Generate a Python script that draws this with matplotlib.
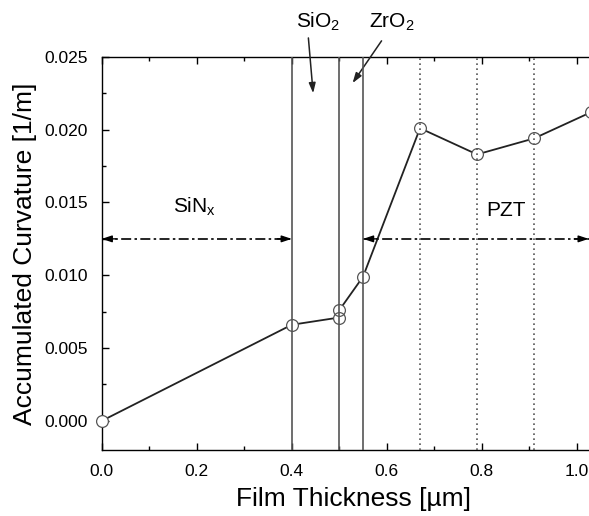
import matplotlib
matplotlib.use("Agg")
import matplotlib.pyplot as plt
from matplotlib.ticker import MultipleLocator, FormatStrFormatter

plt.rcParams.update({
    "font.family": "Liberation Sans",
    "mathtext.fontset": "custom",
    "mathtext.rm": "Liberation Sans",
    "mathtext.it": "Liberation Sans",
})

# measured data
thickness = [0.0, 0.40, 0.50, 0.50, 0.55, 0.67, 0.79, 0.91, 1.03]
curvature = [0.0, 0.0066, 0.0071, 0.0076, 0.0099, 0.0201, 0.0183, 0.0194, 0.0212]

# layer boundaries
solid_bounds = [0.40, 0.50, 0.55]
dotted_bounds = [0.67, 0.79, 0.91]

LINE_GRAY = "#555555"

fig = plt.figure(figsize=(5.89, 5.16), dpi=100)
ax = fig.add_axes([0.1727, 0.1279, 0.855, 0.7619])

for xb in solid_bounds:
    ax.axvline(xb, color=LINE_GRAY, linewidth=1.2, zorder=6)
for xb in dotted_bounds:
    ax.axvline(xb, color=LINE_GRAY, linewidth=1.2, linestyle=(0, (1, 2)), zorder=6)

# curve, then white discs, then open circle outlines
ax.plot(thickness, curvature, color="#222222", linewidth=1.3, zorder=3)
ax.plot(thickness, curvature, linestyle="none", marker="o", markersize=8.5,
        markerfacecolor="white", markeredgecolor="none", clip_on=False, zorder=4)
ax.plot(thickness, curvature, linestyle="none", marker="o", markersize=8.5,
        markerfacecolor="none", markeredgecolor="#555555", markeredgewidth=0.9,
        clip_on=False, zorder=5)

# dash-dot region arrows
arrow_y = 0.0125
ax.plot([0.0, 0.4], [arrow_y, arrow_y], color="black", linewidth=1.2,
        linestyle=(0, (6, 2, 1.5, 2)))
ax.plot([0.55, 1.03], [arrow_y, arrow_y], color="black", linewidth=1.2,
        linestyle=(0, (6, 2, 1.5, 2)))
head = dict(arrowstyle="-|>,head_length=0.6,head_width=0.2", color="black",
            linewidth=1.0, shrinkA=0, shrinkB=0)
for tip, tail in [(0.0, 0.03), (0.4, 0.37), (0.55, 0.58), (1.025, 0.995)]:
    ax.annotate("", xy=(tip, arrow_y), xytext=(tail, arrow_y), arrowprops=head)

ax.text(0.150, 0.0143, r"$\mathregular{SiN_x}$", fontsize=15, ha="left", va="baseline")
ax.text(0.85, 0.0141, "PZT", fontsize=15, ha="center", va="baseline")

# labels above the plot
ax.text(0.409, 0.0270, r"$\mathregular{SiO_2}$", fontsize=15, ha="left",
        va="baseline", clip_on=False)
ax.text(0.563, 0.0270, r"$\mathregular{ZrO_2}$", fontsize=15, ha="left",
        va="baseline", clip_on=False)
ptr = dict(arrowstyle="-|>,head_length=0.6,head_width=0.2", color="#222222",
           linewidth=1.1, shrinkA=0, shrinkB=0)
ax.annotate("", xy=(0.445, 0.0225), xytext=(0.435, 0.0263), arrowprops=ptr,
            annotation_clip=False)
ax.annotate("", xy=(0.528, 0.0232), xytext=(0.589, 0.0261), arrowprops=ptr,
            annotation_clip=False)

ax.set_xlim(0, 1.06)
ax.set_ylim(-0.002, 0.025)
ax.xaxis.set_major_locator(MultipleLocator(0.2))
ax.xaxis.set_minor_locator(MultipleLocator(0.1))
ax.yaxis.set_major_locator(MultipleLocator(0.005))
ax.yaxis.set_minor_locator(MultipleLocator(0.0025))
ax.xaxis.set_major_formatter(FormatStrFormatter("%.1f"))
ax.yaxis.set_major_formatter(FormatStrFormatter("%.3f"))
ax.tick_params(which="both", direction="in", top=True, right=True,
               labelsize=12.5, width=1.0)
ax.tick_params(which="major", length=5)
ax.tick_params(which="minor", length=3)
ax.tick_params(axis="x", which="major", pad=10)
ax.tick_params(axis="y", which="major", pad=10)
for sp in ax.spines.values():
    sp.set_linewidth(1.0)

ax.set_xlabel("Film Thickness [µm]", fontsize=19, labelpad=6)
ax.set_ylabel("Accumulated Curvature [1/m]", fontsize=19, labelpad=5)

fig.savefig("out.png", dpi=100)
